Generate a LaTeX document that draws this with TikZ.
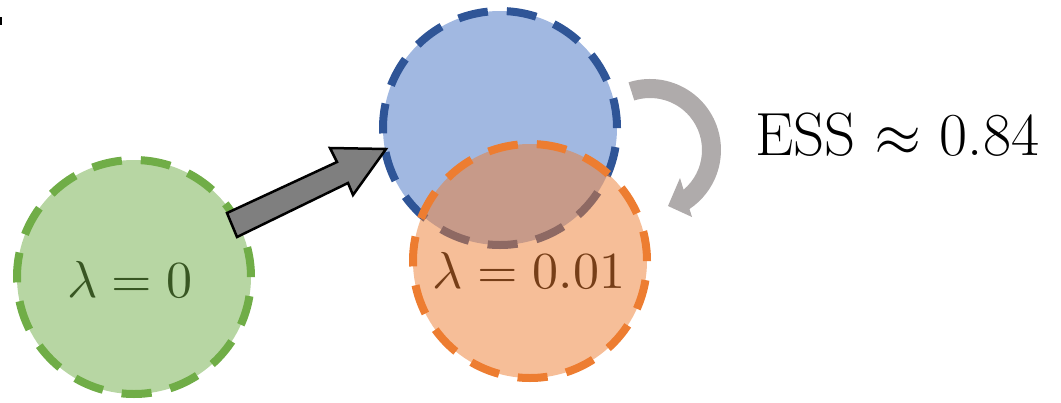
\documentclass[tikz,border=0pt]{standalone}
\usepackage{unicode-math}
\setmathfont{Latin Modern Math}
\usetikzlibrary{calc}
\definecolor{gborder}{HTML}{70AD47}
\definecolor{bborder}{HTML}{2F5597}
\definecolor{bfill}{HTML}{4472C4}
\definecolor{oborder}{HTML}{ED7D31}
\definecolor{gtext}{HTML}{385623}
\definecolor{otext}{HTML}{763E18}
\definecolor{arrowgray}{HTML}{7F7F7F}
\definecolor{loopgray}{HTML}{AFABAB}
\begin{document}
\begin{tikzpicture}[x=1pt,y=-1pt,
  circ/.style={circle, minimum size=234pt, inner sep=0pt, line width=8pt, dash pattern=on 30pt off 19pt},
  lbl/.style={font=\fontsize{52}{60}\selectfont, inner sep=0pt, anchor=base},
  blockarrow/.style={line width=2.5pt, draw=black, fill=arrowgray, line join=miter},
  looparrow/.style={fill=loopgray}]
\useasboundingbox (0,0) rectangle (1061,402);
% small mark at top left
\fill (0,17) rectangle (2,25);
% circles
\node[circ, draw=bborder, fill=bfill, fill opacity=0.5] (blue) at (500,128) {};
\node[circ, draw=oborder, fill=oborder, fill opacity=0.5] (orange) at (530,261) {};
\node[circ, draw=gborder, fill=gborder, fill opacity=0.5] (green) at (134,277) {};
% labels
\node[lbl, text=gtext] (gl) at ($(green.center)+(-4,20)$) {$\lambda = 0$};
\node[lbl, text=otext] (ol) at ($(orange.center)+(-1,27)$) {$\lambda = 0.01$};
\node[font=\fontsize{61}{70}\selectfont, inner sep=0pt, anchor=base west] (ess) at (755,155) {ESS $\approx$ 0.84};
% block arrow from green to blue
\coordinate (t1) at (227,213);
\coordinate (t2) at (237,237);
\coordinate (tip) at (386,149);
\draw[blockarrow] (t1) -- (337,162) -- (330,148) -- (tip) -- (353,195) -- (348,183) -- (t2) -- cycle;
% curved loop arrow
\coordinate (lc) at (650,150);
\fill[looparrow] ($(lc)+(252.4:71)$) arc[start angle=252.4, end angle=416.2, radius=71]
  -- (692,217) -- (668,206) -- (680,178) -- ($(lc)+(409.8:52)$)
  arc[start angle=409.8, end angle=252.4, radius=52] -- cycle;
\end{tikzpicture}
\end{document}
